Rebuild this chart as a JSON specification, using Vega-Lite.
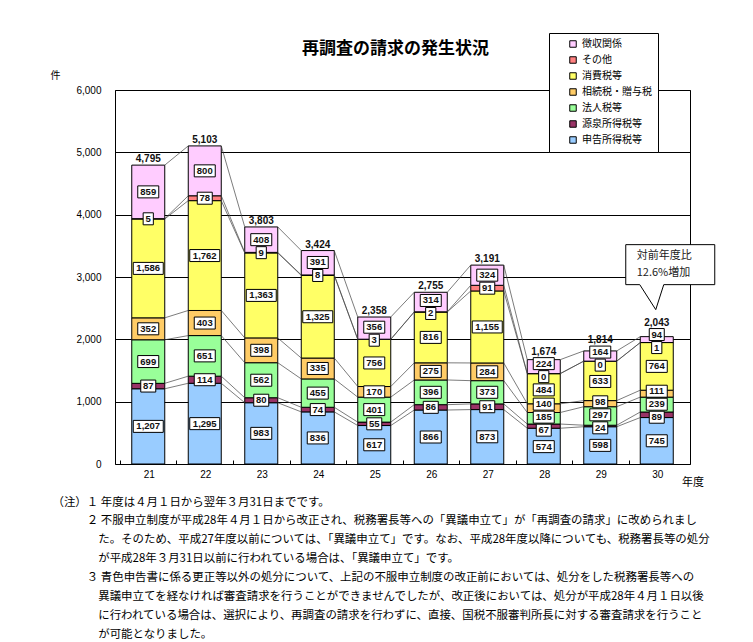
{
  "$schema": "https://vega.github.io/schema/vega-lite/v6.json",
  "width": 575,
  "height": 374,
  "autosize": {"type": "none"},
  "padding": {"left": 115, "top": 90, "right": 63, "bottom": 178},
  "background": "white",
  "title": {"text": "再調査の請求の発生状況", "anchor": "middle", "frame": "group", "dx": -7, "offset": -25, "fontSize": 17, "fontWeight": "bold", "font": "Noto Sans CJK JP", "color": "black"},
  "config": {
    "view": {"stroke": "black", "strokeWidth": 1},
    "font": "Noto Sans CJK JP"
  },
  "data": {"values": [
    {"year": 21, "type": "申告所得税等", "count": 1207},
    {"year": 21, "type": "源泉所得税等", "count": 87},
    {"year": 21, "type": "法人税等", "count": 699},
    {"year": 21, "type": "相続税・贈与税", "count": 352},
    {"year": 21, "type": "消費税等", "count": 1586},
    {"year": 21, "type": "その他", "count": 5},
    {"year": 21, "type": "徴収関係", "count": 859},
    {"year": 22, "type": "申告所得税等", "count": 1295},
    {"year": 22, "type": "源泉所得税等", "count": 114},
    {"year": 22, "type": "法人税等", "count": 651},
    {"year": 22, "type": "相続税・贈与税", "count": 403},
    {"year": 22, "type": "消費税等", "count": 1762},
    {"year": 22, "type": "その他", "count": 78},
    {"year": 22, "type": "徴収関係", "count": 800},
    {"year": 23, "type": "申告所得税等", "count": 983},
    {"year": 23, "type": "源泉所得税等", "count": 80},
    {"year": 23, "type": "法人税等", "count": 562},
    {"year": 23, "type": "相続税・贈与税", "count": 398},
    {"year": 23, "type": "消費税等", "count": 1363},
    {"year": 23, "type": "その他", "count": 9},
    {"year": 23, "type": "徴収関係", "count": 408},
    {"year": 24, "type": "申告所得税等", "count": 836},
    {"year": 24, "type": "源泉所得税等", "count": 74},
    {"year": 24, "type": "法人税等", "count": 455},
    {"year": 24, "type": "相続税・贈与税", "count": 335},
    {"year": 24, "type": "消費税等", "count": 1325},
    {"year": 24, "type": "その他", "count": 8},
    {"year": 24, "type": "徴収関係", "count": 391},
    {"year": 25, "type": "申告所得税等", "count": 617},
    {"year": 25, "type": "源泉所得税等", "count": 55},
    {"year": 25, "type": "法人税等", "count": 401},
    {"year": 25, "type": "相続税・贈与税", "count": 170},
    {"year": 25, "type": "消費税等", "count": 756},
    {"year": 25, "type": "その他", "count": 3},
    {"year": 25, "type": "徴収関係", "count": 356},
    {"year": 26, "type": "申告所得税等", "count": 866},
    {"year": 26, "type": "源泉所得税等", "count": 86},
    {"year": 26, "type": "法人税等", "count": 396},
    {"year": 26, "type": "相続税・贈与税", "count": 275},
    {"year": 26, "type": "消費税等", "count": 816},
    {"year": 26, "type": "その他", "count": 2},
    {"year": 26, "type": "徴収関係", "count": 314},
    {"year": 27, "type": "申告所得税等", "count": 873},
    {"year": 27, "type": "源泉所得税等", "count": 91},
    {"year": 27, "type": "法人税等", "count": 373},
    {"year": 27, "type": "相続税・贈与税", "count": 284},
    {"year": 27, "type": "消費税等", "count": 1155},
    {"year": 27, "type": "その他", "count": 91},
    {"year": 27, "type": "徴収関係", "count": 324},
    {"year": 28, "type": "申告所得税等", "count": 574},
    {"year": 28, "type": "源泉所得税等", "count": 67},
    {"year": 28, "type": "法人税等", "count": 185},
    {"year": 28, "type": "相続税・贈与税", "count": 140},
    {"year": 28, "type": "消費税等", "count": 484},
    {"year": 28, "type": "その他", "count": 0},
    {"year": 28, "type": "徴収関係", "count": 224},
    {"year": 29, "type": "申告所得税等", "count": 598},
    {"year": 29, "type": "源泉所得税等", "count": 24},
    {"year": 29, "type": "法人税等", "count": 297},
    {"year": 29, "type": "相続税・贈与税", "count": 98},
    {"year": 29, "type": "消費税等", "count": 633},
    {"year": 29, "type": "その他", "count": 0},
    {"year": 29, "type": "徴収関係", "count": 164},
    {"year": 30, "type": "申告所得税等", "count": 745},
    {"year": 30, "type": "源泉所得税等", "count": 89},
    {"year": 30, "type": "法人税等", "count": 239},
    {"year": 30, "type": "相続税・贈与税", "count": 111},
    {"year": 30, "type": "消費税等", "count": 764},
    {"year": 30, "type": "その他", "count": 1},
    {"year": 30, "type": "徴収関係", "count": 94}
  ]},
  "transform": [
    {"calculate": "indexof(['申告所得税等','源泉所得税等','法人税等','相続税・贈与税','消費税等','その他','徴収関係'], datum.type)", "as": "rank"},
    {"stack": "count", "groupby": ["year"], "sort": [{"field": "rank", "order": "ascending"}], "as": ["y0", "y1"]},
    {"calculate": "(datum.y0 + datum.y1) / 2", "as": "mid"},
    {"calculate": "datum.mid - datum.rank * 208.6", "as": "a"},
    {"window": [{"op": "max", "field": "a", "as": "amax"}], "groupby": ["year"], "sort": [{"field": "rank", "order": "ascending"}], "frame": [null, 0]},
    {"window": [{"op": "min", "field": "a", "as": "amin"}], "groupby": ["year"], "sort": [{"field": "rank", "order": "ascending"}], "frame": [0, null]},
    {"calculate": "(datum.amax + datum.amin) / 2 + datum.rank * 208.6", "as": "lab"}
  ],
  "layer": [
    {
      "mark": {"type": "bar", "width": 33, "stroke": "black", "strokeWidth": 1},
      "encoding": {
        "x": {"field": "year", "type": "quantitative", "scale": {"domain": [20.5, 30.5], "nice": false, "zero": false},
          "axis": {"values": [20.5, 21.5, 22.5, 23.5, 24.5, 25.5, 26.5, 27.5, 28.5, 29.5], "labelExpr": "format(datum.value + 0.5, 'd')", "labelOffset": 28.75, "labelFlush": false, "labelOverlap": false, "ticks": true, "tickSize": -4, "tickColor": "black", "domain": false, "grid": false, "labelPadding": 9, "labelBaseline": "top", "labelFont": "Liberation Sans", "labelFontSize": 10, "labelColor": "black",
            "title": [
              "（注）１ 年度は４月１日から翌年３月31日までです。",
              "\u200b　　　２ 不服申立制度が平成28年４月１日から改正され、税務署長等への「異議申立て」が「再調査の請求」に改められまし",
              "\u200b　　　　た。そのため、平成27年度以前については、「異議申立て」です。なお、平成28年度以降についても、税務署長等の処分",
              "\u200b　　　　が平成28年３月31日以前に行われている場合は、「異議申立て」です。",
              "\u200b　　　３ 青色申告書に係る更正等以外の処分について、上記の不服申立制度の改正前においては、処分をした税務署長等への",
              "\u200b　　　　異議申立てを経なければ審査請求を行うことができませんでしたが、改正後においては、処分が平成28年４月１日以後",
              "\u200b　　　　に行われている場合は、選択により、再調査の請求を行わずに、直接、国税不服審判所長に対する審査請求を行うこと",
              "\u200b　　　　が可能となりました。"
            ],
            "titleAngle": 0, "titleAlign": "left", "titleAnchor": "start", "titleBaseline": "top", "titleX": -63, "titleY": 32, "titleFont": "Noto Sans CJK JP", "titleFontSize": 11.45, "titleFontWeight": "normal", "titleLineHeight": 18.9, "titleLimit": 3000, "titleColor": "black"}},
        "y": {"field": "y1", "type": "quantitative", "scale": {"domain": [0, 6000], "nice": false},
          "axis": {"values": [0, 1000, 2000, 3000, 4000, 5000, 6000], "format": ",d", "grid": true, "gridColor": "black", "gridWidth": 1, "gridOpacity": 1, "ticks": false, "domain": false, "labelPadding": 14, "labelFont": "Liberation Sans", "labelFontSize": 10, "labelColor": "black", "title": "件", "titleAngle": 0, "titleX": -60, "titleY": -15, "titleAlign": "center", "titleBaseline": "middle", "titleFontSize": 10, "titleFontWeight": "normal", "titleColor": "black"}},
        "y2": {"field": "y0"},
        "color": {"field": "type", "type": "nominal",
          "scale": {"domain": ["徴収関係", "その他", "消費税等", "相続税・贈与税", "法人税等", "源泉所得税等", "申告所得税等"],
                    "range": ["#FFCCFF", "#FF8080", "#FFFF66", "#FFCC66", "#99FF99", "#993366", "#99CCFF"]},
          "legend": {"orient": "none", "legendX": 434, "legendY": -57, "title": null, "symbolType": "square", "symbolSize": 42, "symbolStrokeColor": "black", "symbolStrokeWidth": 1, "labelFontSize": 10, "labelFont": "Noto Sans CJK JP", "labelColor": "black", "fillColor": "white", "strokeColor": "black", "padding": 6, "rowPadding": 4, "symbolOffset": 13, "labelOffset": 4}}
      }
    },
    {
      "transform": [
        {"window": [{"op": "lead", "field": "y1", "as": "ny1"}, {"op": "lead", "field": "year", "as": "nyear"}], "groupby": ["type"], "sort": [{"field": "year", "order": "ascending"}]},
        {"filter": "datum.nyear != null"}
      ],
      "mark": {"type": "rule", "xOffset": 16.5, "x2Offset": -16.5, "stroke": "#444", "strokeWidth": 0.7},
      "encoding": {
        "x": {"field": "year", "type": "quantitative"},
        "x2": {"field": "nyear"},
        "y": {"field": "y1", "type": "quantitative"},
        "y2": {"field": "ny1"}
      }
    },
    {
      "mark": {"type": "point", "filled": true, "fill": "white", "stroke": "black", "strokeWidth": 1, "size": 144, "opacity": 1},
      "encoding": {
        "x": {"field": "year", "type": "quantitative"},
        "y": {"field": "lab", "type": "quantitative"},
        "shape": {"condition": [
          {"test": "datum.count >= 1000", "value": "M-2.5,-1H2.5V1H-2.5Z"},
          {"test": "datum.count >= 100", "value": "M-1.75,-1H1.75V1H-1.75Z"},
          {"test": "datum.count >= 10", "value": "M-1.25,-1H1.25V1H-1.25Z"}
        ], "value": "M-0.85,-1H0.85V1H-0.85Z"}
      }
    },
    {
      "mark": {"type": "text", "font": "Liberation Sans", "fontSize": 9.5, "fontWeight": "bold", "color": "#111"},
      "encoding": {
        "x": {"field": "year", "type": "quantitative"},
        "y": {"field": "lab", "type": "quantitative"},
        "text": {"field": "count", "type": "quantitative", "format": ",d"}
      }
    },
    {
      "transform": [
        {"filter": "datum.rank == 6"},
        {"calculate": "max(datum.y1, datum.lab + 96.3)", "as": "ty"}
      ],
      "mark": {"type": "text", "font": "Liberation Sans", "fontSize": 10, "fontWeight": "bold", "color": "#111", "baseline": "bottom", "dy": -1},
      "encoding": {
        "x": {"field": "year", "type": "quantitative"},
        "y": {"field": "ty", "type": "quantitative"},
        "text": {"field": "y1", "type": "quantitative", "format": ",d"}
      }
    },
    {
      "transform": [{"filter": "datum.rank == 6 && datum.year == 30"}],
      "mark": {"type": "point", "filled": true, "fill": "white", "stroke": "black", "strokeWidth": 1, "size": 4, "opacity": 1, "shape": "M-31,-92H58V-52H7L-1,-27L-17,-52H-31Z"},
      "encoding": {
        "x": {"field": "year", "type": "quantitative"},
        "y": {"field": "y1", "type": "quantitative"}
      }
    },
    {
      "transform": [{"filter": "datum.rank == 6 && datum.year == 30"}],
      "mark": {"type": "text", "text": ["対前年度比", "12.6%増加"], "align": "left", "baseline": "top", "dx": -20, "dy": -87, "lineHeight": 17, "fontSize": 11, "font": "Noto Sans CJK JP", "color": "#222"},
      "encoding": {
        "x": {"field": "year", "type": "quantitative"},
        "y": {"field": "y1", "type": "quantitative"}
      }
    },
    {
      "transform": [{"filter": "datum.rank == 6 && datum.year == 30"}],
      "mark": {"type": "text", "text": "年度", "align": "center", "baseline": "middle", "dx": 8, "dy": 19, "fontSize": 11, "font": "Noto Sans CJK JP", "color": "black"},
      "encoding": {
        "x": {"datum": 30.5, "type": "quantitative"},
        "y": {"datum": 0, "type": "quantitative"}
      }
    }
  ]
}
